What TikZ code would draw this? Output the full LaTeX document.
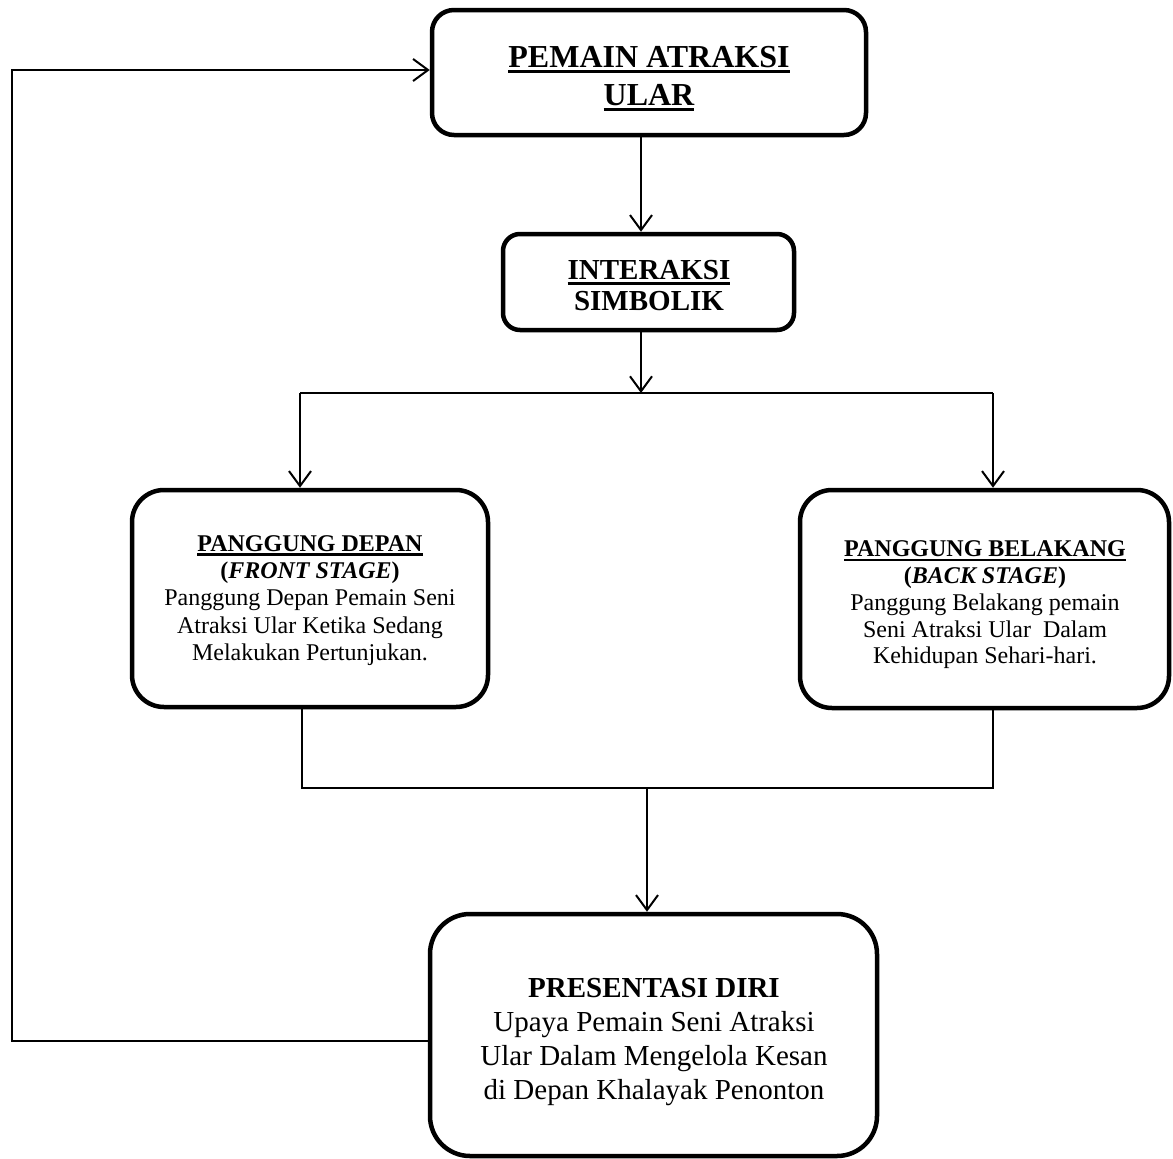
\documentclass[tikz,border=0pt]{standalone}
\usepackage{fontspec}
\setmainfont{Liberation Serif}
\usetikzlibrary{arrows.meta}
\newcommand{\uln}[1]{\setbox0\hbox{#1}\leavevmode\rlap{\rule[-0.17em]{\wd0}{0.09em}}\box0}
\tikzset{
  box/.style={draw, line width=4.5pt, inner sep=0pt},
  txt/.style={align=center, inner sep=0pt},
  conn/.style={line width=2pt},
  arr/.style={conn, -{Straight Barb[length=15pt,width=22pt,line width=2pt]}},
}
\begin{document}
\begin{tikzpicture}[x=1pt,y=-1pt]
\useasboundingbox (0,0) rectangle (1173,1159);
% boxes
\node[box, rounded corners=22pt, minimum width=434pt, minimum height=125pt] (top) at (649,72.5) {};
\node[box, rounded corners=17pt, minimum width=291pt, minimum height=96pt] (inter) at (648.5,282) {};
\node[box, rounded corners=32pt, minimum width=356pt, minimum height=217pt] (left) at (310,598.5) {};
\node[box, rounded corners=32pt, minimum width=369pt, minimum height=218pt] (right) at (984.5,599) {};
\node[box, rounded corners=40pt, minimum width=447pt, minimum height=242pt] (bot) at (653.5,1035) {};
% texts
\node[txt, font=\fontsize{32}{38}\selectfont\bfseries] (topT) at (649,78.5)
      {\uln{PEMAIN ATRAKSI}\\\uln{ULAR}};
\node[txt, font=\fontsize{29}{31}\selectfont\bfseries] (interT) at (649,286)
      {\uln{INTERAKSI}\\SIMBOLIK};
\node[txt, font=\fontsize{24}{27.2}\selectfont] (leftT) at (310,600.5)
      {\textbf{\uln{PANGGUNG DEPAN}}\\\textbf{(\textit{FRONT STAGE})}\\Panggung Depan Pemain Seni\\Atraksi Ular Ketika Sedang\\Melakukan Pertunjukan.};
\node[txt, font=\fontsize{24}{26.7}\selectfont] (rightT) at (985,605)
      {\textbf{\uln{PANGGUNG BELAKANG}}\\\textbf{(\textit{BACK STAGE})}\\Panggung Belakang pemain\\Seni Atraksi Ular\ \ Dalam\\Kehidupan Sehari-hari.};
\node[txt, font=\fontsize{29}{34}\selectfont] (botT) at (654,1042.5)
      {\textbf{PRESENTASI DIRI}\\Upaya Pemain Seni Atraksi\\Ular Dalam Mengelola Kesan\\di Depan Khalayak Penonton};
% coordinates
\coordinate (sM) at (641,393);
\coordinate (sL) at (300,393);
\coordinate (sR) at (993,393);
\coordinate (jL) at (302,788);
\coordinate (jR) at (993,788);
\coordinate (jM) at (647,788);
\coordinate (fbB) at (12,1041);
\coordinate (fbT) at (12,70);
% connectors
\draw[arr] (top.south -| 641,0) -- (inter.north -| 641,0);
\draw[arr] (inter.south -| sM) -- (sM);
\draw[conn] (sL) -- (sR);
\draw[arr] (sL) -- (left.north -| sL);
\draw[arr] (sR) -- (right.north -| sR);
\draw[conn] (left.south -| jL) -- (jL) -- (jR) -- (right.south -| jR);
\draw[arr] (jM) -- (bot.north -| jM);
\draw[arr] (bot.west |- fbB) -- (fbB) -- (fbT) -- (top.west |- fbT);
\end{tikzpicture}
\end{document}
